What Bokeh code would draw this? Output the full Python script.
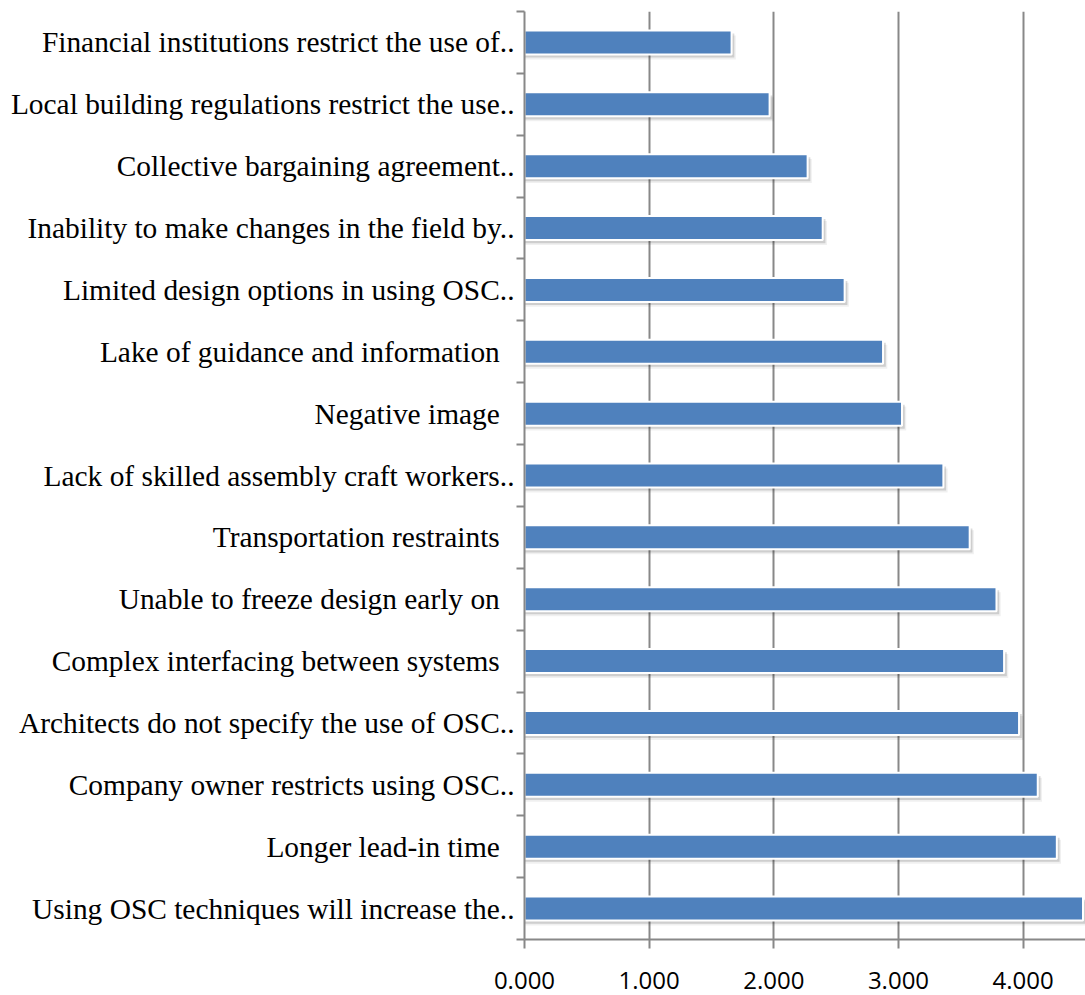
from bokeh.plotting import figure
from bokeh.models import Range1d, FixedTicker, NumeralTickFormatter, ColumnDataSource
from bokeh.embed import file_html
from bokeh.resources import INLINE

NB = "\u00a0\u00a0"

categories = [
    "Financial institutions restrict the use of..",
    "Local building regulations restrict the use..",
    "Collective bargaining agreement..",
    "Inability to make changes in the field by..",
    "Limited design options in using OSC..",
    "Lake of guidance and information" + NB,
    "Negative image" + NB,
    "Lack of skilled assembly craft workers..",
    "Transportation restraints" + NB,
    "Unable to freeze design early on" + NB,
    "Complex interfacing between systems" + NB,
    "Architects do not specify the use of OSC..",
    "Company owner restricts using OSC..",
    "Longer lead-in time" + NB,
    "Using OSC techniques will increase the..",
]
values = [1.661, 1.966, 2.271, 2.392, 2.568, 2.876, 3.028, 3.360, 3.571,
          3.786, 3.847, 3.967, 4.117, 4.270, 4.480]
x_ticks = [0, 1, 2, 3, 4]

n = len(categories)
ypos = [i + 0.5 for i in range(n)]
bar_h = 0.388

src = ColumnDataSource(dict(
    y=ypos, v=values,
    ys1=[y + 0.05 for y in ypos], vs1=[v + 0.022 for v in values],
    ys2=[y + 0.08 for y in ypos], vs2=[v + 0.034 for v in values],
))

p = figure(width=1085, height=995, output_backend="svg", toolbar_location=None,
           x_range=Range1d(0, 4.5), y_range=Range1d(n, 0))
p.min_border = 0
p.min_border_left = 524
p.min_border_right = 0
p.min_border_top = 11
p.min_border_bottom = 56
p.outline_line_color = None
p.background_fill_color = "white"
p.border_fill_color = "white"

# shadows
p.hbar(y="ys2", left=0, right="vs2", height=bar_h, source=src,
       fill_color="black", fill_alpha=0.06, line_color=None)
p.hbar(y="ys1", left=0, right="vs1", height=bar_h, source=src,
       fill_color="black", fill_alpha=0.14, line_color=None)
# bars
p.hbar(y="y", left=0, right="v", height=bar_h, source=src,
       fill_color="#4F81BD", line_color="white", line_width=2)

grey = "#888888"

# x grid
p.xgrid.ticker = FixedTicker(ticks=x_ticks)
p.xgrid.grid_line_color = grey
p.xgrid.grid_line_width = 2
p.ygrid.grid_line_color = None

# x axis
xa = p.xaxis[0]
xa.ticker = FixedTicker(ticks=x_ticks)
xa.formatter = NumeralTickFormatter(format="0.000")
xa.axis_line_color = grey
xa.axis_line_width = 2
xa.major_tick_line_color = grey
xa.major_tick_line_width = 2
xa.major_tick_out = 9
xa.major_tick_in = 0
xa.minor_tick_line_color = None
xa.major_label_text_font = "Open Sans"
xa.major_label_text_font_size = "24px"
xa.major_label_text_color = "black"
xa.major_label_standoff = 23

# y axis
ya = p.yaxis[0]
ya.ticker = FixedTicker(ticks=ypos, minor_ticks=list(range(n + 1)))
ya.major_label_overrides = {y: c for y, c in zip(ypos, categories)}
ya.axis_line_color = grey
ya.axis_line_width = 2
ya.major_tick_line_color = None
ya.major_tick_out = 0
ya.major_tick_in = 0
ya.minor_tick_line_color = grey
ya.minor_tick_line_width = 2
ya.minor_tick_out = 8
ya.minor_tick_in = 0
ya.major_label_text_font = "Liberation Serif"
ya.major_label_text_font_size = "29.4px"
ya.major_label_text_color = "black"
ya.major_label_standoff = 2

open("out.html", "w").write(file_html(p, INLINE))
